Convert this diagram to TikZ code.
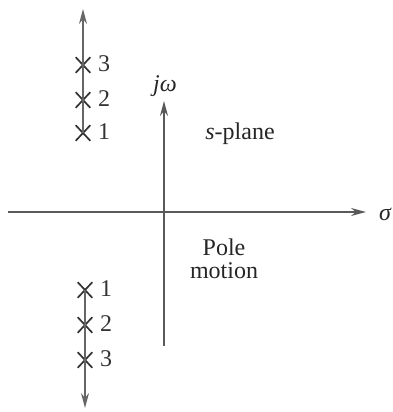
\documentclass[tikz,border=0pt]{standalone}
\usepackage{fontspec}
\setmainfont{Liberation Serif}
\usetikzlibrary{arrows.meta,shapes.misc}
\begin{document}
\begin{tikzpicture}[x=1pt,y=-1pt,
  axis/.style={draw=black!65,line width=1.6pt,-{Stealth[length=15pt,width=8pt]}},
  track/.style={draw=black!60,line width=1.5pt},
  pole/.style={cross out,draw=black!80,line width=1.7pt,minimum width=13pt,minimum height=14pt,inner sep=0pt},
  lbl/.style={font=\fontsize{24}{26}\selectfont,text=black!85,inner sep=0pt},
  num/.style={font=\fontsize{24}{26}\selectfont,text=black!80,inner sep=0pt,anchor=west}]
\useasboundingbox (0,0) rectangle (392,412);
% axes
\coordinate (hL) at (8,212);
\coordinate (hR) at (366,212);
\coordinate (vB) at (164,346);
\coordinate (vT) at (164,101);
\draw[axis] (hL) -- (hR);
\draw[axis] (vB) -- (vT);
\node[lbl] (sig) at (385,214) {\itshape σ};
\node[lbl] (jw) at (165,86) {\itshape jω};
\node[lbl] (sp) at (240,134) {\itshape s\upshape -plane};
\node[lbl,align=center] (pm) at (224,259) {Pole\\[-3pt]motion};
% upper poles
\node[pole] (u3) at (83,65) {};
\node[pole] (u2) at (83,100) {};
\node[pole] (u1) at (83,133) {};
\coordinate (uT) at (83,9);
\draw[track] (u1.center) -- (u3.center);
\draw[axis,draw=black!60,line width=1.5pt] (u3.center) -- (uT);
\node[num] (n3u) at (98,64) {3};
\node[num] (n2u) at (98,99) {2};
\node[num] (n1u) at (98,132) {1};
% lower poles
\node[pole] (l1) at (85,290) {};
\node[pole] (l2) at (85,325) {};
\node[pole] (l3) at (85,360) {};
\coordinate (lB) at (85,408);
\draw[track] (l1.center) -- (l3.center);
\draw[axis,draw=black!60,line width=1.5pt] (l3.center) -- (lB);
\node[num] (n1l) at (100,289) {1};
\node[num] (n2l) at (100,324) {2};
\node[num] (n3l) at (100,359) {3};
\end{tikzpicture}
\end{document}
